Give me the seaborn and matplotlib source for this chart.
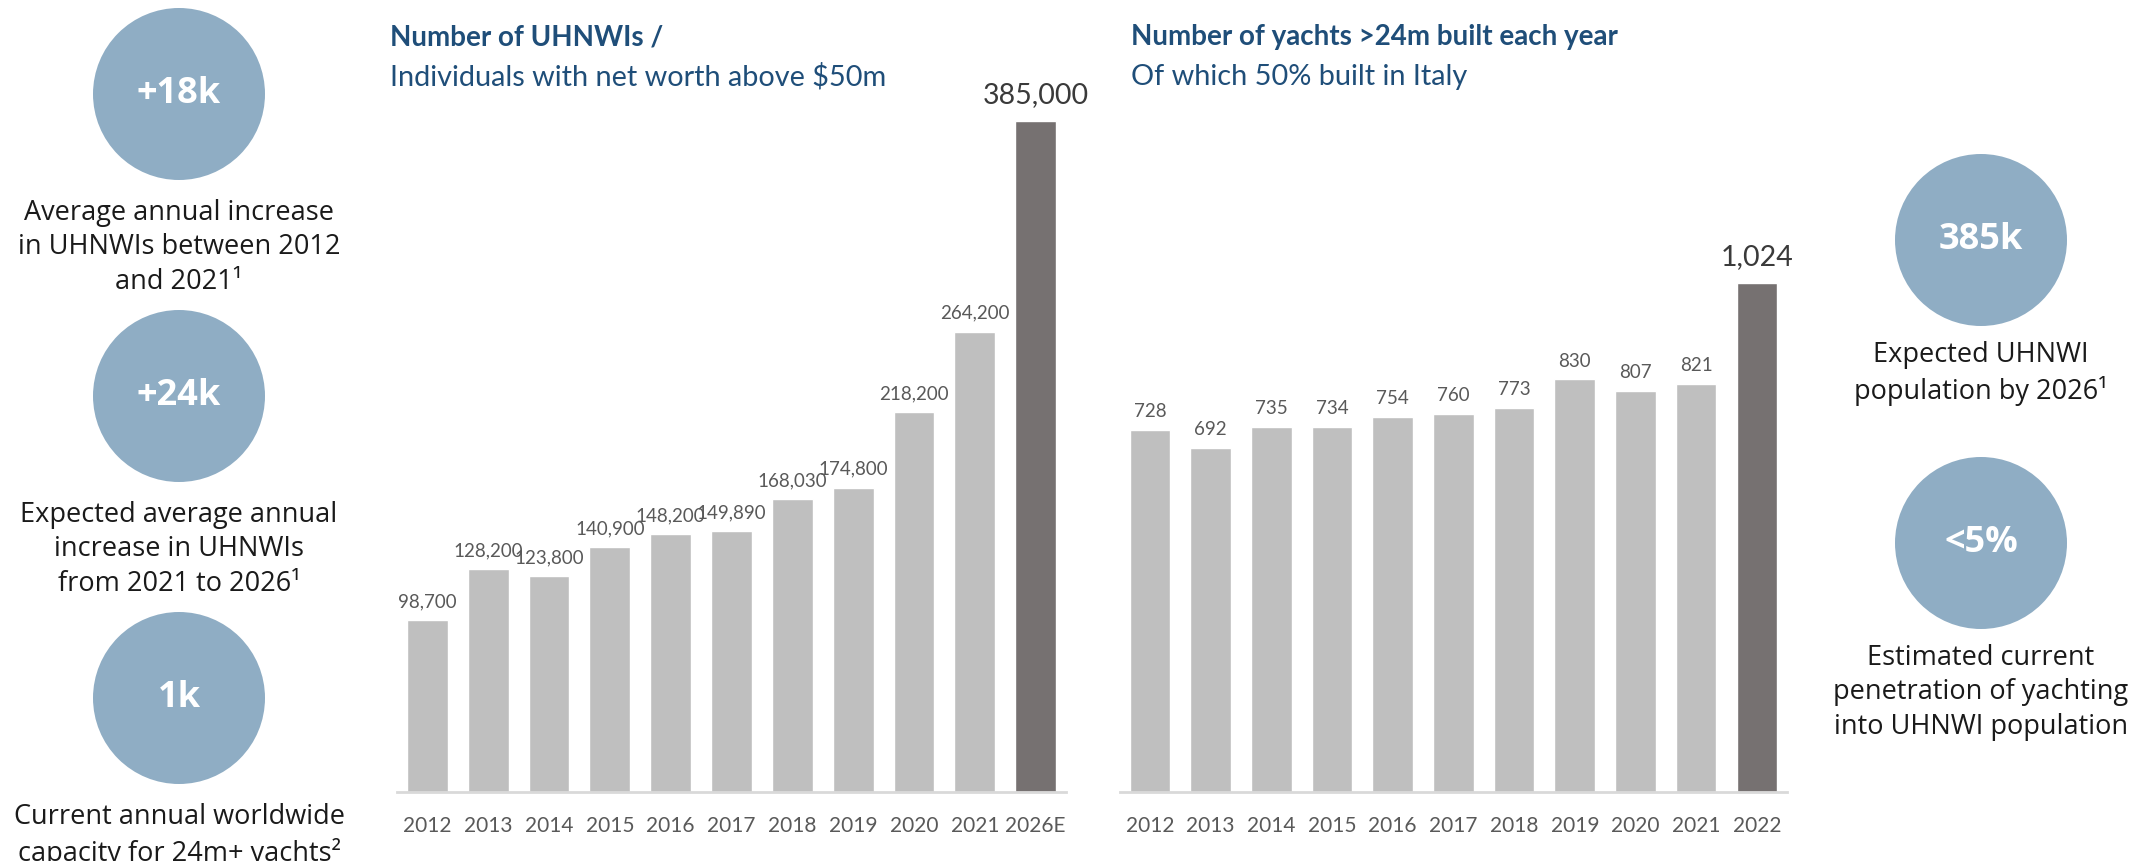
import numpy as np
import pandas as pd
import matplotlib.pyplot as plt
import seaborn as sns
from matplotlib.patches import Circle

# data
uhnwi_years = ['2012', '2013', '2014', '2015', '2016', '2017', '2018', '2019', '2020', '2021', '2026E']
uhnwi_values = [98700, 128200, 123800, 140900, 148200, 149890, 168030, 174800, 218200, 264200, 385000]
yacht_years = ['2012', '2013', '2014', '2015', '2016', '2017', '2018', '2019', '2020', '2021', '2022']
yacht_values = [728, 692, 735, 734, 754, 760, 773, 830, 807, 821, 1024]

left_bubbles = ['+18k', '+24k', '1k']
left_notes = ['Average annual increase\nin UHNWIs between 2012\nand 2021¹',
              'Expected average annual\nincrease in UHNWIs\nfrom 2021 to 2026¹',
              'Current annual worldwide\ncapacity for 24m+ yachts²']
right_bubbles = ['385k', '<5%']
right_notes = ['Expected UHNWI\npopulation by 2026¹',
               'Estimated current\npenetration of yachting\ninto UHNWI population']

sns.set_style('white')
plt.rcParams['font.family'] = ['Lato', 'DejaVu Sans']

GREY = '#BFBFBF'
DARK = '#767171'
NAVY = '#1F4E79'
BUBBLE = '#8FADC4'

fig = plt.figure(figsize=(21.54, 8.61), dpi=100)

# background layer in pixel units for bubbles and notes
bg = fig.add_axes([0, 0, 1, 1])
bg.set_xlim(0, 2154)
bg.set_ylim(0, 861)
bg.axis('off')

left_y = [767, 465, 163]
for y, big, note in zip(left_y, left_bubbles, left_notes):
    bg.add_patch(Circle((179, y), 86, color=BUBBLE, lw=0))
    bg.text(179, y, big, ha='center', va='center', color='white', fontsize=26,
            fontweight='bold', family='Open Sans')
    bg.text(179, y - 105, note, ha='center', va='top', color='#1A1A1A', fontsize=19.5,
            family='Open Sans', linespacing=1.3)

right_y = [621, 318]
for y, big, note in zip(right_y, right_bubbles, right_notes):
    bg.add_patch(Circle((1981, y), 86, color=BUBBLE, lw=0))
    bg.text(1981, y, big, ha='center', va='center', color='white', fontsize=26,
            fontweight='bold', family='Open Sans')
    bg.text(1981, y - 101, note, ha='center', va='top', color='#1A1A1A', fontsize=19.5,
            family='Open Sans', linespacing=1.3)


def bar_panel(rect, years, values, fmt, small, big):
    ax = fig.add_axes(rect)
    df = pd.DataFrame({'year': years, 'value': values})
    pal = [GREY] * (len(years) - 1) + [DARK]
    sns.barplot(data=df, x='year', y='value', hue='year', palette=pal, legend=False,
                width=0.67, saturation=1, ax=ax)
    ax.set_xlim(-0.5, len(years) - 0.5)
    ax.set_ylim(0, max(values))
    for i, v in enumerate(values):
        last = i == len(values) - 1
        ax.annotate(fmt(v), (i, v), xytext=(0, 9 if last else 7), textcoords='offset points',
                    ha='center', va='bottom', fontsize=big if last else small,
                    color='#3A3A3A' if last else '#595959', annotation_clip=False)
    sns.despine(ax=ax, left=True)
    ax.spines['bottom'].set_color('#D9D9D9')
    ax.spines['bottom'].set_linewidth(2)
    ax.set_yticks([])
    ax.set_xlabel('')
    ax.set_ylabel('')
    ax.tick_params(axis='x', length=0, pad=17, labelsize=15, labelcolor='#595959')
    return ax


bar_panel([0.1843, 0.0797, 0.3106, 0.7799], uhnwi_years, uhnwi_values,
          lambda v: f'{v:,}', 13.5, 20.5)
bar_panel([0.5198, 0.0797, 0.3099, 0.5918], yacht_years, yacht_values,
          lambda v: f'{v:,}', 13.5, 20.5)

fig.text(0.181, 0.957, 'Number of UHNWIs /', color=NAVY, fontsize=20, fontweight='bold', va='center')
fig.text(0.181, 0.911, 'Individuals with net worth above $50m', color=NAVY, fontsize=20.8, va='center')
fig.text(0.525, 0.957, 'Number of yachts >24m built each year', color=NAVY, fontsize=20, fontweight='bold', va='center')
fig.text(0.525, 0.911, 'Of which 50% built in Italy', color=NAVY, fontsize=20.8, va='center')

fig.savefig('out.png', dpi=100)
